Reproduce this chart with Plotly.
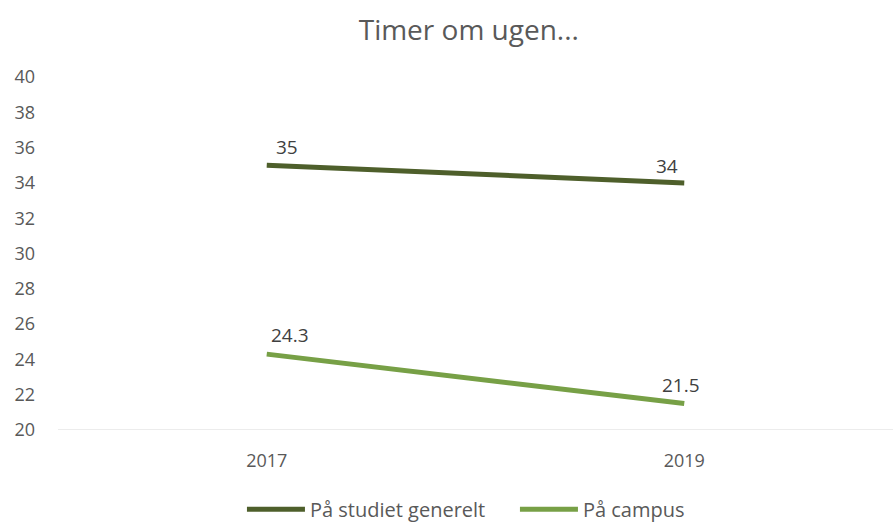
import plotly.graph_objects as go

years = ["2017", "2019"]
studiet = [35, 34]
campus = [24.3, 21.5]
series_names = ["På studiet generelt", "På campus"]
colors = ["#4E5F2B", "#77A046"]
font = "Open Sans"

fig = go.Figure()
for name, vals, col in zip(series_names, [studiet, campus], colors):
    fig.add_trace(go.Scatter(x=years, y=vals, mode="lines", name=name,
                             line=dict(color=col, width=5)))

# data labels (x given as category index)
label_shifts = {(0, 0): (20, 18), (0, 1): (-17, 17), (1, 0): (23, 19), (1, 1): (-3, 19)}
for si, vals in enumerate([studiet, campus]):
    for i, v in enumerate(vals):
        dx, dy = label_shifts[(si, i)]
        fig.add_annotation(x=i, y=v, xref="x", yref="y", text=str(v), showarrow=False,
                           xshift=dx, yshift=dy,
                           font=dict(family=font, size=19, color="#404040"))

fig.update_layout(
    width=893, height=524,
    paper_bgcolor="white", plot_bgcolor="white",
    margin=dict(l=58, r=0, t=77, b=94, autoexpand=False),
    title=dict(text="Timer om ugen...", x=0.525, xanchor="center", y=0.943, yanchor="middle",
               font=dict(family=font, size=28, color="#595959")),
    font=dict(family=font, color="#595959"),
    showlegend=True,
    legend=dict(orientation="h", x=0.2203, xanchor="left",
                yref="container", y=0.028, yanchor="middle",
                itemwidth=58, entrywidth=200,
                font=dict(family=font, size=20, color="#595959")),
    xaxis=dict(type="category", range=[-0.5, 1.5], showgrid=False, zeroline=False,
               showline=False, ticks="", ticklabelstandoff=18,
               tickfont=dict(family=font, size=18, color="#595959")),
    yaxis=dict(range=[20, 40], dtick=2, showgrid=False, zeroline=False, showline=False,
               ticks="", tickfont=dict(family=font, size=18, color="#595959"),
               ticklabelstandoff=22),
)
fig.add_shape(type="line", xref="paper", yref="y", x0=0, x1=1, y0=20, y1=20,
              line=dict(color="#D9D9D9", width=1))
fig.write_html("out.html", config={"displayModeBar": False},
               post_script="document.body.style.margin='0';document.body.style.overflow='hidden';")
